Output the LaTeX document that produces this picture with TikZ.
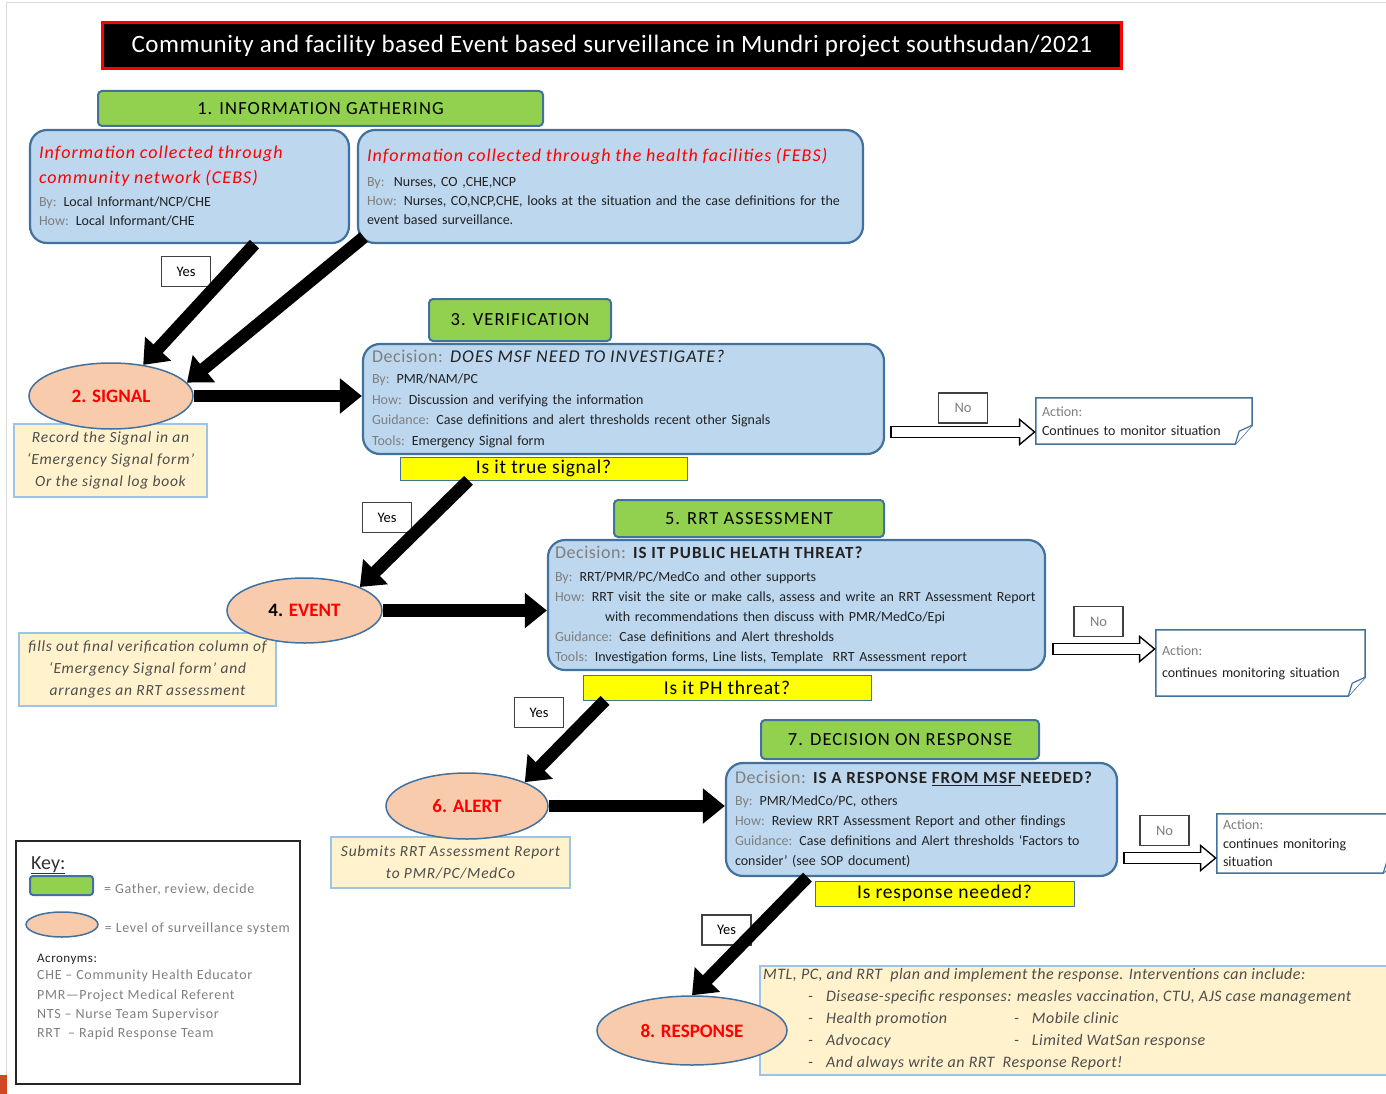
\documentclass[tikz,border=0pt]{standalone}
\usepackage{fontspec}
\setmainfont{Carlito}
\usepackage{xcolor}
\usetikzlibrary{arrows.meta,calc,positioning,shapes.geometric}

\definecolor{boxblue}{HTML}{BDD7EE}
\definecolor{edgeblue}{HTML}{41719C}
\definecolor{stepgreen}{HTML}{92D050}
\definecolor{levelpeach}{HTML}{F8CBAD}
\definecolor{notecream}{HTML}{FFF2CC}
\definecolor{noteedge}{HTML}{9DC3E6}
\definecolor{askyellow}{HTML}{FFFF00}
\definecolor{labelgray}{HTML}{7F7F7F}
\definecolor{bodytext}{HTML}{222222}
\definecolor{notegray}{HTML}{4D4D4D}
\definecolor{alarm}{HTML}{FF0000}
\definecolor{slidemark}{HTML}{D24726}

\newcommand{\lbl}[1]{\textcolor{labelgray}{#1}}
\newcommand{\spread}[1]{\addfontfeature{LetterSpace=#1}}
\newcommand{\redhead}{\fontsize{18}{19}\selectfont\itshape\spread{6}}
\newcommand{\askline}{\fontsize{18}{19}\selectfont\spread{3}Decision:}

\begin{document}
\begin{tikzpicture}[x=1pt,y=-1pt,
  titlebar/.style={fill=black,draw=alarm,line width=3pt,text=white,inner sep=0pt,
    font=\fontsize{25}{27}\selectfont\spread{2}},
  gather/.style={fill=stepgreen,draw=edgeblue,line width=2pt,rounded corners=4pt,inner sep=0pt,
    font=\fontsize{18.5}{20}\selectfont\spread{6}},
  stagebox/.style={fill=boxblue,draw=edgeblue,line width=2.2pt,rounded corners=17pt,
    inner xsep=9pt,inner ysep=3pt,align=left,text=bodytext,font=\fontsize{14}{20}\selectfont},
  query/.style={fill=askyellow,draw=edgeblue,line width=0.8pt,inner sep=0pt,
    font=\fontsize{19.5}{20}\selectfont\spread{4}},
  memo/.style={fill=notecream,draw=noteedge,line width=1.6pt,inner sep=0pt,align=center,
    text=notegray,font=\fontsize{15.5}{22}\selectfont\itshape\spread{5}},
  tier/.style={ellipse,fill=levelpeach,draw=edgeblue,line width=1.5pt,inner sep=0pt,
    text=alarm,font=\fontsize{19}{20}\selectfont\bfseries},
  actbox/.style={fill=white,inner xsep=6pt,inner ysep=0pt,align=left,text=bodytext,
    font=\fontsize{14}{18.5}\selectfont},
  reply/.style={fill=white,draw=black!75,line width=1.2pt,inner sep=0pt,
    minimum width=49pt,minimum height=30pt,font=\fontsize{14.5}{16}\selectfont},
  bigarrow/.style={line width=12.5pt,-{Triangle[length=22pt,width=34pt]}},
  hollowout/.style={line width=12.5pt,-{Triangle[length=17pt,width=27pt]}},
  hollowin/.style={white,line width=9.5pt,-{Triangle[length=13.1pt,width=20.8pt]},
    shorten >=2.4pt,shorten <=1.5pt},
  keytext/.style={text=labelgray,inner sep=0pt,font=\fontsize{14}{19.3}\selectfont\spread{5}}]

  \useasboundingbox (0,0) rectangle (1386,1094);
  % slide frame
  \draw[black!15,line width=1pt] (6,1075) -- (6,3) -- (1386,3);
  \fill[slidemark] (0,1075) rectangle (7,1094);

  % title
  \node[titlebar,minimum width=1019pt,minimum height=46pt] (title) at (612,45.5)
    {Community and facility based Event based surveillance in Mundri project southsudan/2021};

  % green stage headers
  \node[gather,minimum width=445pt,minimum height=35pt] (g1) at (320.5,108.5) {1. INFORMATION GATHERING};
  \node[gather,minimum width=182pt,minimum height=42pt] (g3) at (520,320) {3. VERIFICATION};
  \node[gather,minimum width=270pt,minimum height=37pt] (g5) at (749,518.5) {5. RRT ASSESSMENT};
  \node[gather,minimum width=278pt,minimum height=39pt] (g7) at (900,739.5) {7. DECISION ON RESPONSE};

  % blue decision boxes
  \node[stagebox,minimum width=319pt,minimum height=113pt,text width=301pt,font=\fontsize{14}{19}\selectfont] (cebs) at (189.5,186.5)
    {\textcolor{alarm}{\redhead Information collected through\\[6pt]community network (CEBS)}\\[4pt]
     \lbl{By:} Local Informant/NCP/CHE\\
     \lbl{How:} Local Informant/CHE};
  \node[stagebox,minimum width=505pt,minimum height=113pt,text width=487pt,font=\fontsize{14}{19}\selectfont] (febs) at (610.5,186.5)
    {\textcolor{alarm}{\redhead Information collected through the health facilities (FEBS)}\\[6pt]
     \lbl{By:}\ \ Nurses, CO ,CHE,NCP\\
     \lbl{How:} Nurses, CO,NCP,CHE, looks at the situation and the case definitions for the\\
     event based surveillance.};
  \node[stagebox,minimum width=521pt,minimum height=110pt,text width=503pt,font=\fontsize{14}{20.5}\selectfont] (ver) at (623.5,399)
    {\lbl{\askline} {\fontsize{18}{19}\selectfont\itshape\spread{6}DOES MSF NEED TO INVESTIGATE?}\\[1pt]
     \lbl{By:} PMR/NAM/PC\\
     \lbl{How:} Discussion and verifying the information\\
     \lbl{Guidance:} Case definitions and alert thresholds recent other Signals\\
     \lbl{Tools:} Emergency Signal form};
  \node[stagebox,minimum width=497pt,minimum height=130pt,text width=483pt,inner xsep=7pt] (rrt) at (796.5,605)
    {\lbl{\askline} {\fontsize{17}{19}\selectfont\bfseries\spread{6}IS IT PUBLIC HELATH THREAT?}\\[3pt]
     \lbl{By:} RRT/PMR/PC/MedCo and other supports\\
     \lbl{How:} RRT visit the site or make calls, assess and write an RRT Assessment Report\\
     \hspace*{50pt}with recommendations then discuss with PMR/MedCo/Epi\\
     \lbl{Guidance:} Case definitions and Alert thresholds\\
     \lbl{Tools:} Investigation forms, Line lists, Template\ \ RRT Assessment report};
  \node[stagebox,minimum width=391pt,minimum height=113pt,text width=373pt] (decide) at (921.5,819.5)
    {\lbl{\askline} {\fontsize{17}{19}\selectfont\bfseries\spread{6}IS A RESPONSE \underline{FROM MSF\ }NEEDED?}\\[2pt]
     \lbl{By:} PMR/MedCo/PC, others\\
     \lbl{How:} Review RRT Assessment Report and other findings\\
     \lbl{Guidance:} Case definitions and Alert thresholds `Factors to\\
     consider' (see SOP document)};

  % yellow questions
  \node[query,minimum width=287pt,minimum height=23pt] (tsig) at (543.5,468.5) {Is it true signal?};
  \node[query,minimum width=288pt,minimum height=25pt] (tph) at (727,687.5) {Is it PH threat?};
  \node[query,minimum width=259pt,minimum height=25pt] (tresp) at (944.5,893.5) {Is response needed?};

  % notes under the levels
  \node[memo,minimum width=193pt,minimum height=73pt] (nsig) at (110.5,460.5)
    {Record the Signal in an\\`Emergency Signal form'\\Or the signal log book};
  \node[memo,minimum width=257pt,minimum height=73pt] (nev) at (147.5,669.5)
    {fills out final verification column of\\`Emergency Signal form' and\\arranges an RRT assessment};
  \node[memo,minimum width=239pt,minimum height=51pt] (nal) at (450.5,862.5)
    {Submits RRT Assessment Report\\to PMR/PC/MedCo};
  \node[memo,minimum width=632pt,minimum height=109pt] (nresp) at (1076,1020.5) {};
  \node[anchor=north west,align=left,inner sep=0pt,text=notegray,
    font=\fontsize{16}{22}\selectfont\itshape\spread{3}] (resptxt) at (763,968)
    {MTL, PC, and RRT\ \ plan and implement the response. Interventions can include:\\
     \hspace*{45pt}-\hspace{13pt}Disease-specific responses: measles vaccination, CTU, AJS case management\\
     \hspace*{45pt}-\hspace{13pt}\makebox[188pt][l]{Health promotion}-\hspace{13pt}Mobile clinic\\
     \hspace*{45pt}-\hspace{13pt}\makebox[188pt][l]{Advocacy}-\hspace{13pt}Limited WatSan response\\
     \hspace*{45pt}-\hspace{13pt}And always write an RRT\ \ Response Report!};

  % surveillance levels
  \node[tier,minimum width=164pt,minimum height=66pt] (sig) at (111,396) {2. SIGNAL};
  \node[tier,minimum width=155pt,minimum height=65pt] (ev) at (304.5,610.5) {\textcolor{black}{4.} EVENT};
  \node[tier,minimum width=162pt,minimum height=66pt] (al) at (467,806) {6. ALERT};
  \node[tier,minimum width=190pt,minimum height=69pt] (resp) at (692,1030.5) {8. RESPONSE};

  % actions when the answer is no
  \node[actbox,minimum width=216pt,minimum height=46pt,text width=204pt] (act3) at (1144,421)
    {\lbl{Action:}\\Continues to monitor situation};
  \node[actbox,minimum width=209pt,minimum height=66pt,text width=197pt,font=\fontsize{14}{22}\selectfont] (act5) at (1260.5,663)
    {\lbl{Action:}\\continues monitoring situation};
  \node[actbox,minimum width=183pt,minimum height=59pt,text width=171pt] (act7) at (1308.5,843.5)
    {\lbl{Action:}\\continues monitoring\\situation};
  \foreach \a in {act3,act5,act7}{
    \draw[edgeblue,line width=1.5pt] (\a.north west) -- (\a.north east) -- ([yshift=19pt]\a.south east)
      -- ([xshift=-17pt]\a.south east) -- (\a.south west) -- cycle;
    \draw[edgeblue,line width=1.2pt,fill=white] ([xshift=-17pt]\a.south east)
      -- ([xshift=-13pt,yshift=13pt]\a.south east) -- ([yshift=19pt]\a.south east);
  }

  % yes / no labels
  \node[reply] (y1) at (186,271.5) {Yes};
  \node[reply] (y2) at (387,517.5) {Yes};
  \node[reply] (y3) at (539,712.5) {Yes};
  \node[reply] (y4) at (726.5,930) {Yes};
  \node[reply,text=labelgray] (n3) at (963,408) {No};
  \node[reply,text=labelgray] (n5) at (1098.5,621.5) {No};
  \node[reply,text=labelgray] (n7) at (1164.5,830.5) {No};

  % flow
  \draw[bigarrow] ([xshift=65pt]cebs.south) -- (sig.44);
  \draw[bigarrow] ([xshift=7pt,yshift=7pt]febs.south west) -- (sig.10);
  \draw[bigarrow] (sig.east) -- (sig.east -| ver.west);
  \draw[bigarrow] ([xshift=-75pt]tsig.south) -- (ev.north east);
  \draw[bigarrow] (ev.east) -- (ev.east -| rrt.west);
  \draw[bigarrow] ([xshift=-122pt]tph.south) -- (al.north east);
  \draw[bigarrow] (al.east) -- (al.east -| decide.west);
  \draw[bigarrow] ([xshift=-114pt]decide.south) -- (resp.north);

  % hollow arrows to the actions
  \coordinate (h3) at ([yshift=-11pt]act3.west);
  \coordinate (h3s) at ([xshift=5pt]ver.east |- h3);
  \coordinate (h5) at ([yshift=14pt]act5.west);
  \coordinate (h5s) at ([xshift=6pt]rrt.east |- h5);
  \coordinate (h7) at ([yshift=-14.5pt]act7.west);
  \coordinate (h7s) at ([xshift=5pt]decide.east |- h7);
  \foreach \s/\e in {h3s/h3,h5s/h5,h7s/h7}{
    \draw[hollowout] (\s) -- (\e);
    \draw[hollowin] (\s) -- (\e);
  }

  % key
  \node[draw=black!85,line width=1.5pt,minimum width=284pt,minimum height=243pt,inner sep=0pt] (key) at (158,962.5) {};
  \node[anchor=base west,inner sep=0pt,text=black!80,font=\fontsize{20}{22}\selectfont] (keyhd) at (31,869) {\underline{Key:}};
  \node[gather,minimum width=63pt,minimum height=19pt,rounded corners=3pt] (keyg) at (61.5,885.5) {};
  \node[keytext,right=10pt of keyg,yshift=-4pt] (keygt) {= Gather, review, decide};
  \node[tier,minimum width=72pt,minimum height=25pt] (keyl) at (62,924.5) {};
  \node[keytext,right=6pt of keyl,yshift=-4pt] (keylt) {= Level of surveillance system};
  \node[keytext,anchor=west,text=bodytext,font=\fontsize{13}{14}\selectfont\spread{4}] (acr) at (37,959) {Acronyms:};
  \node[keytext,anchor=north west,align=left] (acrl) at (37,970)
    {CHE -- Community Health Educator\\PMR---Project Medical Referent\\NTS -- Nurse Team Supervisor\\RRT\ \ -- Rapid Response Team};
\end{tikzpicture}
\end{document}
